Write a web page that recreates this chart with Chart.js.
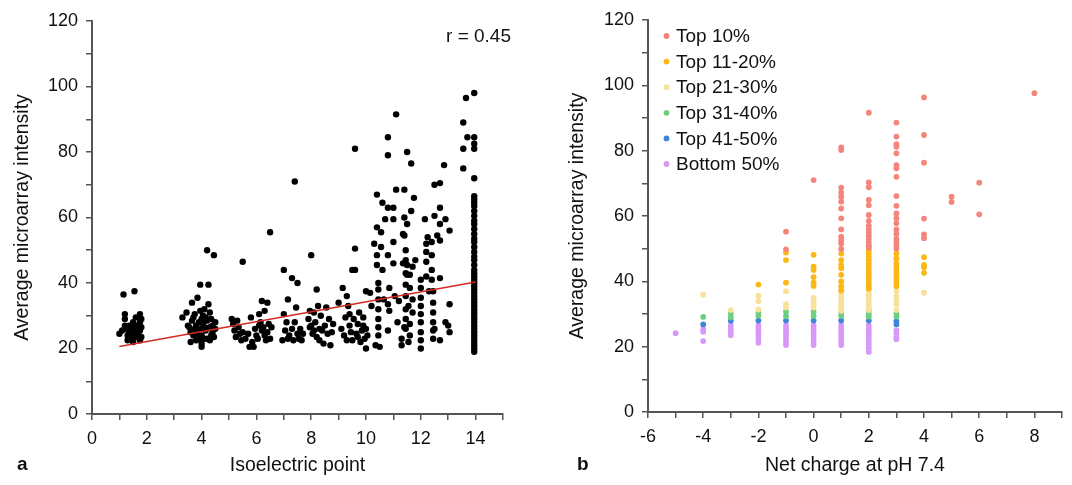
<!DOCTYPE html>
<html>
<head>
<meta charset="utf-8">
<script src="https://cdn.jsdelivr.net/npm/chart.js@4"></script>
<style>
  body { margin: 0; background: #fff; }
  .panel { position: absolute; top: 0; height: 485px; }
  #wrapA { left: 0; width: 540px; }
  #wrapB { left: 540px; width: 532px; }
</style>
</head>
<body>
<div class="panel" id="wrapA"><canvas id="chartA" width="540" height="485"></canvas></div>
<div class="panel" id="wrapB"><canvas id="chartB" width="532" height="485"></canvas></div>
<script>
// panel a: isoelectric point vs intensity, [pI, intensity]
const pointsA = [
  [1.0,24.5],[1.1,25.5],[1.15,36.5],[1.2,27],[1.2,29],[1.2,30.5],[1.25,26],[1.3,24],[1.3,22.5],[1.35,25],
  [1.35,27],[1.4,23],[1.4,26],[1.45,24.5],[1.5,22],[1.5,28],[1.55,37.5],[1.55,25],[1.55,26.5],[1.6,23.5],
  [1.6,29.5],[1.65,27],[1.7,24],[1.75,22.5],[1.75,25.5],[1.75,28],[1.75,30.5],[1.8,23.5],[1.8,26.5],[1.8,29],
  [3.3,29.5],[3.45,31],[3.5,27],[3.6,25],[3.65,34],[3.7,29.5],[3.75,26],[3.8,22.5],[3.85,35.5],[3.9,28],
  [3.95,39.5],[3.95,31.5],[4.0,20.5],[4.0,21.5],[4.0,24],[4.0,26],[4.05,30],[4.05,27.5],[4.1,23],[4.1,32],
  [4.15,25.5],[4.2,28.5],[4.2,50],[4.25,39.5],[4.25,33.5],[4.3,31],[4.3,26.5],[4.35,24],[4.4,27],[4.45,48.5],
  [4.45,23.5],[4.5,26],[4.5,28],[3.6,22],[3.7,24],[3.8,27],[3.85,24.5],[3.9,26],[4.0,29],[4.1,26.5],
  [3.55,26.5],[3.65,28.5],[4.2,23],[4.3,22.5],[3.75,30.5],[3.95,23],[4.15,29.5],[4.35,29],[4.4,25],
  [5.1,29],[5.15,27.5],[5.2,25.5],[5.25,23.5],[5.3,28.5],[5.35,26.5],[5.4,24.5],[5.45,22.5],[5.5,46.5],[5.5,25],
  [5.6,23],[5.7,24.5],[5.75,20.5],[5.8,29.5],[5.85,22],[5.9,20.5],[5.95,26],[6.0,24],[6.05,23],[6.1,30.5],
  [6.15,28],[6.2,34.5],[6.25,26.5],[6.3,31.5],[6.35,22.5],[6.4,25],[6.4,34],[6.45,27.5],[6.5,55.5],[6.5,23],
  [6.55,26.5],[6.3,24],[6.2,25.5],[6.1,27],
  [6.95,22.5],[7.0,44],[7.0,30.5],[7.05,25.5],[7.1,28],[7.15,35],[7.15,23],[7.2,24],[7.3,41.5],[7.3,26],
  [7.35,22.5],[7.4,71],[7.4,28],[7.45,32.5],[7.5,40],[7.5,24.5],[7.55,23],[7.6,26],[7.65,22.5],[7.7,24.5],
  [7.9,29],[7.95,26.5],[8.0,48.5],[8.0,27],[8.05,24.5],[8.1,31],[8.15,28],[8.2,38],[8.2,23.5],[8.25,33],
  [8.3,26],[8.35,30],[8.4,25.5],[8.45,21.5],[8.5,27],[8.55,32.5],[8.6,24.5],[8.65,29],[8.7,21],[8.75,25],
  [8.8,27.5],[8.1,25.5],[8.3,22.5],[7.95,31.5],
  [9.0,34],[9.1,26],[9.15,38.5],[9.2,24],[9.25,29.5],[9.3,22.5],[9.3,36],[9.35,33],[9.4,27],[9.45,25],
  [9.5,44],[9.55,29],[9.6,50.5],[9.6,44],[9.6,81],[9.65,24.5],[9.7,27.5],[9.75,31],[9.8,22],[9.85,25.5],
  [9.9,29.5],[9.95,23],[10.0,20],[10.0,26],[10.0,37.5],[9.5,22.5],[9.7,23.5],[9.9,27],[9.4,30.5],[10.05,24],
  [10.15,37],[10.2,33],[10.3,52],[10.35,21],[10.4,67],[10.4,57],[10.4,48.5],[10.4,45.5],[10.45,40],[10.45,38],
  [10.45,35],[10.45,32],[10.45,29],[10.45,26.5],[10.45,24],[10.5,20.5],[10.55,55.5],[10.55,51],[10.6,64.5],[10.6,44],
  [10.65,35],[10.7,59.5],[10.8,84.5],[10.8,79],[10.8,63],[10.8,48.5],[10.8,33.5],[10.8,25.5],[10.85,38.5],[10.85,31.5],
  [11.0,63],[11.0,59.5],[11.0,52.5],[11.0,46],[11.05,36],[11.1,68.5],[11.1,91.5],[11.15,28],[11.2,34.5],
  [11.3,21],[11.3,23],[11.35,55],[11.35,46],[11.4,68.5],[11.4,60],[11.4,54.5],[11.45,50],[11.45,47],[11.45,43],
  [11.45,39.5],[11.45,36],[11.45,32],[11.45,29],[11.45,26],[11.5,58],[11.5,45.5],[11.5,80],[11.55,33],[11.6,42.5],
  [11.6,38.5],[11.6,27.5],[11.6,24],[11.65,62],[11.65,76.5],[11.7,45],[11.7,35],[11.7,31],[11.75,66],[11.8,47],
  [11.55,22],[11.5,42.5],[11.4,26.5],
  [12.0,41],[12.0,38.5],[12.0,35.5],[12.0,33],[12.0,30.5],[12.0,28],[12.0,25],[12.0,22.5],[12.0,20],[12.15,59.5],
  [12.2,52],[12.2,49.5],[12.2,46.5],[12.2,42],[12.25,54],[12.3,37.5],[12.4,52.5],[12.4,48.5],[12.4,44],[12.4,41],
  [12.45,37.5],[12.45,34],[12.45,31],[12.45,28],[12.45,25.5],[12.45,23],[12.5,70],[12.5,60.5],[12.6,54.5],[12.7,70.5],
  [12.7,63],[12.7,58],[12.7,53],[12.7,41.5],[12.7,22.5],[12.85,76],[12.9,59.5],[12.9,28],[13.0,27],[13.05,56],
  [13.05,33.5],[13.05,25],[12.5,26],
  [13.55,89],[13.55,81],[13.55,75],[13.65,96.5],[13.7,84.5],[13.95,98],[13.95,84.5],[13.95,82.5],[13.95,81],[13.95,72],
  [13.95,66.5],[13.95,65.5],[13.95,64.5],[13.95,63.5],[13.95,62],[13.95,60.5],[13.95,59],[13.95,58],[13.95,56.5],[13.95,55],
  [13.95,53.5],[13.95,52.5],[13.95,51],[13.95,49.5],[13.95,48],[13.95,47],[13.95,45.5],[13.95,44],[13.95,43],[13.95,42],
  [13.95,41],[13.95,40],[13.95,39],[13.95,38],[13.95,37],[13.95,36],[13.95,35],[13.95,34],[13.95,33],[13.95,32],
  [13.95,31],[13.95,30],[13.95,29],[13.95,28],[13.95,27],[13.95,26],[13.95,25],[13.95,24],[13.95,23],[13.95,22],
  [13.95,21],[13.95,20],[13.95,19]
];
const fitLineA = [[1, 20.6], [14, 40.3]];
const corrText = 'r = 0.45';

// panel b: net charge vs intensity, grouped by rank
const groupNames = ['Top 10%', 'Top 11-20%', 'Top 21-30%', 'Top 31-40%', 'Top 41-50%', 'Bottom 50%'];
const groupColors = ['#f3857b', '#fbb714', '#f7e19b', '#6dcf7f', '#3f87d6', '#d898f7'];
const top10 = [
  [-1,55.2],[-1,49.8],[0,71],
  [1,81],[1,80.2],[1,68.7],[1,67.2],[1,65.9],[1,64.4],[1,62.3],[1,59.3],[1,55.9],[1,53.7],[1,52.6],[1,51.6],[1,49.9],
  [2,91.6],[2,70.3],[2,68.8],[2,64.9],[2,63.3],[2,60.3],[2,58.5],[2,57],[2,56],[2,55],[2,54],[2,53],[2,52],[2,51],[2,50.3],
  [3,88.6],[3,84.3],[3,82],[3,81.2],[3,79.2],[3,75.6],[3,74.6],[3,72],[3,66.1],[3,63.1],[3,60.8],[3,59.3],[3,57.8],
  [3,55.9],[3,54.5],[3,53],[3,52],[3,51],[3,50],
  [4,96.3],[4,84.8],[4,76.3],[4,59.2],[4,54.4],[4,53.2],
  [5,65.9],[5,64.3],[6,70.2],[6,60.5],[8,97.6]
];
const top11to20 = [
  [-2,39],[-1,48.8],[-1,46.5],[-1,39.6],
  [0,48.1],[0,44.5],[0,43.5],[0,41.3],[0,39.6],[0,38.6],
  [1,48.5],[1,46.5],[1,45],[1,44],[1,42],[1,40],[1,38.5],[1,37.2],
  [2,49.5],[2,48.5],[2,47.5],[2,46.5],[2,45.5],[2,44.5],[2,43.5],[2,42.5],[2,41.5],[2,40.5],[2,39.5],[2,38.5],[2,37.8],
  [3,48.5],[3,47],[3,45.5],[3,44.5],[3,43.5],[3,42.5],[3,41.5],[3,40.5],[3,39.5],[3,38.5],
  [4,47.4],[4,45],[4,44.3],[4,42.6]
];
const top21to30 = [
  [-4,35.9],[-3,31.2],[-2,35.6],[-2,33.9],[-2,31.4],[-1,37],[-1,33],[-1,32],
  [0,34.9],[0,33.9],[0,33],[0,32],[1,36],[1,35],[1,34],[1,33],[1,32],[1,31],
  [2,37],[2,36],[2,35],[2,34],[2,33],[2,32],[2,31.2],[3,37],[3,35.5],[3,34.3],[3,33],[3,31.2],[4,36.5]
];
const top31to40 = [
  [-4,29.1],[-3,30.2],[-3,29],[-2,30.5],[-2,29.5],[-1,30.7],[-1,29.3],[0,30.7],[0,29.4],
  [1,30.6],[1,29.5],[2,31],[2,30],[2,29.2],[3,30.2],[3,29.2]
];
const top41to50 = [
  [-4,26.8],[-3,27.9],[-2,28],[-1,28],[0,28],[1,28],[2,28],[3,27.8],[3,26.8]
];
const bottom50 = [
  [-5,24.1],[-4,25.4],[-4,24.6],[-4,21.7],
  [-3,26.5],[-3,25.5],[-3,24.5],[-3,23.5],
  [-2,26.5],[-2,25.5],[-2,24.5],[-2,23.5],[-2,22.5],[-2,21.2],
  [-1,26.5],[-1,25.5],[-1,24.5],[-1,23.5],[-1,22.5],[-1,21.5],[-1,20.5],
  [0,26.5],[0,25.5],[0,24.5],[0,23.5],[0,22.5],[0,21.5],[0,20.5],
  [1,26.5],[1,25.5],[1,24.5],[1,23.5],[1,22.5],[1,21.5],[1,20.5],
  [2,26.5],[2,25.5],[2,24.5],[2,23.5],[2,22.5],[2,21.5],[2,20.5],[2,19.5],[2,18.4],
  [3,25],[3,24],[3,23],[3,22.3]
];
const groups = [top10, top11to20, top21to30, top31to40, top41to50, bottom50];

const yTicksMax = 120;
const FONT = '"Liberation Sans", Arial, Helvetica, sans-serif';
const axisGrey = '#555';

const toXY = arr => arr.map(p => ({ x: p[0], y: p[1] }));

function axes(xmin, xmax, xTitle, yWidth, yTitlePad, xHeight) {
  return {
    x: {
      type: 'linear', min: xmin, max: xmax,
      afterFit: s => { s.height = xHeight; },
      border: { display: true, color: axisGrey, width: 2 },
      grid: { drawOnChartArea: false, drawTicks: true, tickLength: 6, color: axisGrey, lineWidth: 1.5 },
      ticks: {
        stepSize: 1, autoSkip: false, maxRotation: 0, padding: 8, color: '#111',
        font: { family: FONT, size: 18 },
        callback: v => (v % 2 === 0 ? v : '')
      },
      title: { display: true, text: xTitle, color: '#111', font: { family: FONT, size: 19.5 }, padding: { top: 0, bottom: 8 } }
    },
    y: {
      type: 'linear', min: 0, max: yTicksMax,
      afterFit: s => { s.width = yWidth; },
      border: { display: true, color: axisGrey, width: 2 },
      grid: { drawOnChartArea: false, drawTicks: true, tickLength: 6, color: axisGrey, lineWidth: 1.5 },
      ticks: {
        stepSize: 10, autoSkip: false, padding: 8, color: '#111',
        font: { family: FONT, size: 18 },
        callback: v => (v % 20 === 0 ? v : '')
      },
      title: { display: true, text: 'Average microarray intensity', color: '#111', font: { family: FONT, size: 19.5 }, padding: { top: yTitlePad, bottom: 0 } }
    }
  };
}

// panel letter + extra text
const panelText = (id, letter, lx, extra) => ({
  id: id,
  afterDraw(chart) {
    const ctx = chart.ctx;
    ctx.save();
    ctx.fillStyle = '#111';
    ctx.textBaseline = 'middle';
    ctx.font = 'bold 19px ' + FONT;
    ctx.textAlign = 'left';
    ctx.fillText(letter, lx, 465);
    if (extra) extra(ctx, chart);
    ctx.restore();
  }
});

new Chart(document.getElementById('chartA'), {
  type: 'scatter',
  data: {
    datasets: [
      {
        type: 'line', data: toXY(fitLineA), borderColor: '#d42a22', borderWidth: 1.5,
        pointRadius: 0, fill: false, order: 0
      },
      {
        data: toXY(pointsA), backgroundColor: '#000', borderWidth: 0,
        pointRadius: 3.2, order: 1
      }
    ]
  },
  options: {
    responsive: false, animation: false, events: [],
    layout: { padding: { top: 21, right: 37, left: 0, bottom: 0 } },
    scales: axes(0, 15, 'Isoelectric point', 92, 11, 71),
    plugins: { legend: { display: false }, tooltip: { enabled: false } }
  },
  plugins: [panelText('textA', 'a', 17, (ctx) => {
    ctx.font = '19px ' + FONT;
    ctx.textAlign = 'right';
    ctx.fillText(corrText, 511, 37);
  })]
});

new Chart(document.getElementById('chartB'), {
  type: 'scatter',
  data: {
    datasets: groups.map((g, i) => ({
      label: groupNames[i], data: toXY(g), backgroundColor: groupColors[i],
      borderWidth: 0, pointRadius: 2.9, order: i
    }))
  },
  options: {
    responsive: false, animation: false, events: [],
    layout: { padding: { top: 20, right: 10, left: 0, bottom: 0 } },
    scales: axes(-6, 9, 'Net charge at pH 7.4', 108, 26, 73),
    plugins: { legend: { display: false }, tooltip: { enabled: false } }
  },
  plugins: [panelText('textB', 'b', 37, (ctx, chart) => {
    const a = chart.chartArea;
    ctx.font = '19px ' + FONT;
    ctx.textAlign = 'left';
    groupNames.forEach((name, i) => {
      const y = a.top + 16 + i * 25.6;
      ctx.fillStyle = groupColors[i];
      ctx.beginPath();
      ctx.arc(a.left + 18.5, y, 2.9, 0, Math.PI * 2);
      ctx.fill();
      ctx.fillStyle = '#111';
      ctx.fillText(name, a.left + 28, y + 1);
    });
  })]
});
</script>
</body>
</html>
